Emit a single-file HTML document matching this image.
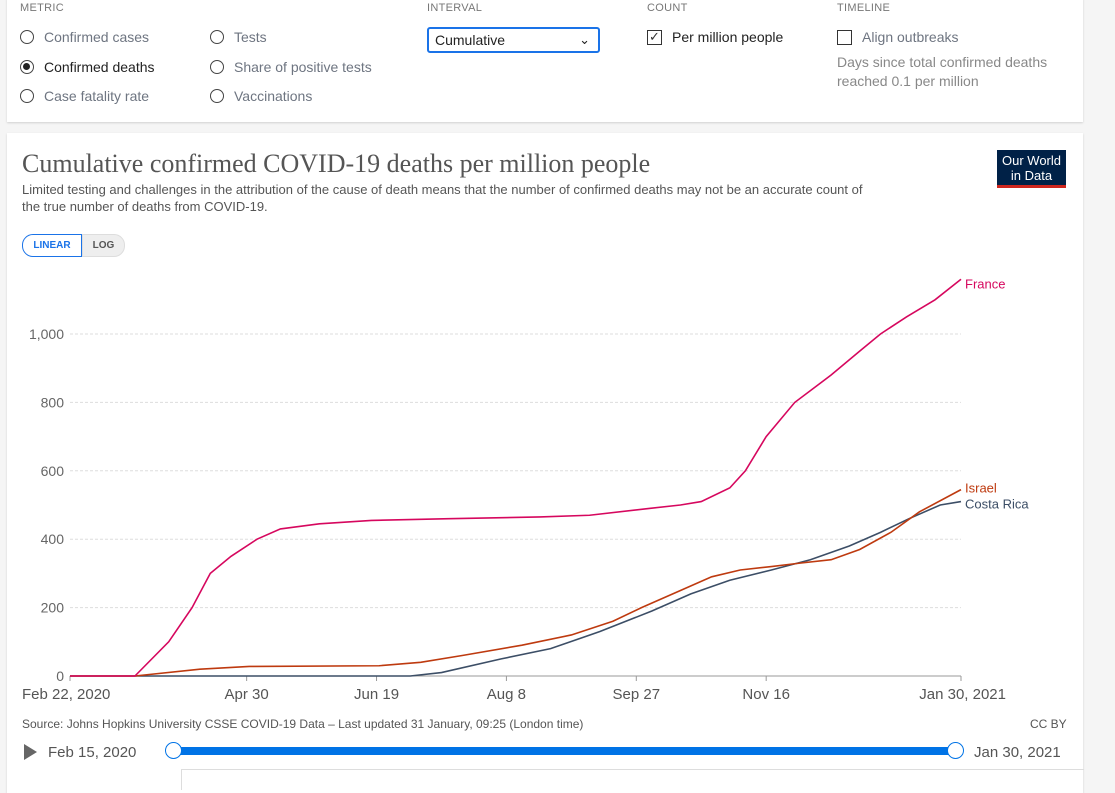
<!DOCTYPE html>
<html><head><meta charset="utf-8"><style>
body{margin:0;width:1115px;height:783px;background:#f5f5f5;font-family:"Liberation Sans",sans-serif;overflow:hidden;position:relative}
.card{position:absolute;background:#fff;box-shadow:0 1px 2px rgba(0,0,0,.15)}
.lbl{position:absolute;font-size:11px;color:#777;letter-spacing:.3px}
.opt{position:absolute;font-size:14px;color:#6e7581;display:flex;align-items:center}
.rad{width:14px;height:14px;border:1.5px solid #444;border-radius:50%;margin-right:10px;box-sizing:border-box;position:relative}
.rad.on::after{content:"";position:absolute;left:2px;top:2px;width:7px;height:7px;border-radius:50%;background:#222}
.chk{width:15px;height:15px;border:1.5px solid #333;margin-right:10px;box-sizing:border-box;font-size:13px;line-height:12px;text-align:center;color:#333}
</style></head><body>
<div class="card" style="left:7px;top:-2px;width:1076px;height:124px">
<div class="lbl" style="left:13px;top:4px">METRIC</div>
<div class="opt" style="left:13px;top:31px"><span class="rad"></span>Confirmed cases</div>
<div class="opt" style="left:13px;top:61px;color:#222"><span class="rad on"></span>Confirmed deaths</div>
<div class="opt" style="left:13px;top:90px"><span class="rad"></span>Case fatality rate</div>
<div class="opt" style="left:203px;top:31px"><span class="rad"></span>Tests</div>
<div class="opt" style="left:203px;top:61px"><span class="rad"></span>Share of positive tests</div>
<div class="opt" style="left:203px;top:90px"><span class="rad"></span>Vaccinations</div>
<div class="lbl" style="left:420px;top:4px">INTERVAL</div>
<div style="position:absolute;left:420px;top:29px;width:163px;height:22px;border:2px solid #1a73e8;border-radius:3px;font-size:14px;color:#222;line-height:22px;padding-left:6px;box-sizing:content-box">Cumulative<span style="position:absolute;right:8px;top:0;font-size:13px">&#8964;</span></div>
<div class="lbl" style="left:640px;top:4px">COUNT</div>
<div class="opt" style="left:640px;top:31px;color:#222"><span class="chk">✓</span>Per million people</div>
<div class="lbl" style="left:830px;top:4px">TIMELINE</div>
<div class="opt" style="left:830px;top:31px"><span class="chk"></span>Align outbreaks</div>
<div style="position:absolute;left:830px;top:55px;font-size:14px;color:#888;line-height:19px">Days since total confirmed deaths<br>reached 0.1 per million</div>
</div>
<div class="card" style="left:7px;top:133px;width:1076px;height:660px"></div>
<div style="position:absolute;left:22px;top:149px;font-family:'Liberation Serif',serif;font-size:26px;color:#555">Cumulative confirmed COVID-19 deaths per million people</div>
<div style="position:absolute;left:22px;top:181px;width:960px;font-size:13px;color:#555;line-height:17px">Limited testing and challenges in the attribution of the cause of death means that the number of confirmed deaths may not be an accurate count of<br>the true number of deaths from COVID-19.</div>
<div style="position:absolute;left:997px;top:150px;width:69px;height:38px;background:#002147;color:#fff;font-size:13px;text-align:center;line-height:15px;padding-top:3px;box-sizing:border-box;border-bottom:3px solid #ce261e">Our World<br>in Data</div>
<div style="position:absolute;left:22px;top:234px;width:58px;height:21px;border:1px solid #1a73e8;border-radius:11px 0 0 11px;font-size:10px;color:#1a73e8;text-align:center;line-height:21px;font-weight:bold">LINEAR</div>
<div style="position:absolute;left:82px;top:234px;width:41px;height:21px;border:1px solid #ddd;background:#eee;border-radius:0 11px 11px 0;font-size:10px;color:#555;text-align:center;line-height:21px;font-weight:bold">LOG</div>
<svg id="chart" width="1115" height="783" style="position:absolute;left:0;top:0"></svg>
<div style="position:absolute;left:22px;top:717px;font-size:12px;color:#555">Source: Johns Hopkins University CSSE COVID-19 Data – Last updated 31 January, 09:25 (London time)</div>
<div style="position:absolute;left:1030px;top:717px;font-size:12px;color:#555">CC BY</div>
<div style="position:absolute;left:24px;top:744px;width:0;height:0;border-left:13px solid #666;border-top:8px solid transparent;border-bottom:8px solid transparent"></div>
<div style="position:absolute;left:48px;top:744px;font-size:15px;color:#555">Feb 15, 2020</div>
<div style="position:absolute;left:174px;top:747px;width:782px;height:8px;background:#0073e6"></div>
<div style="position:absolute;left:165px;top:742px;width:17px;height:17px;border:1px solid #0073e6;border-radius:50%;background:#fff;box-sizing:border-box"></div>
<div style="position:absolute;left:947px;top:742px;width:17px;height:17px;border:1px solid #0073e6;border-radius:50%;background:#fff;box-sizing:border-box"></div>
<div style="position:absolute;left:974px;top:744px;font-size:15px;color:#555">Jan 30, 2021</div>
<div style="position:absolute;left:181px;top:769px;width:902px;height:20px;border-top:1px solid #ddd;border-left:1px solid #ddd"></div>
<script>
const yTicks=[0,200,400,600,800,1000];
const xTickDays=[0,68,118,168,218,268,343];
const xTickLabels=["Feb 22, 2020","Apr 30","Jun 19","Aug 8","Sep 27","Nov 16","Jan 30, 2021"];
const franceDays=[0,25,38,47,54,62,72,81,96,116,146,181,200,223,235,243,254,260,268,279,293,304,312,322,333,343];
const franceVals=[0,0,100,200,300,350,400,430,445,455,460,465,470,490,500,510,550,600,700,800,880,950,1000,1050,1100,1160];
const israelDays=[0,25,50,69,119,135,151,174,193,209,220,235,247,258,270,281,293,304,316,327,343];
const israelVals=[0,0,20,28,30,40,60,90,120,160,200,250,290,310,320,330,340,370,420,480,545];
const costaDays=[0,131,143,166,185,204,224,239,254,270,285,300,312,323,335,343];
const costaVals=[0,0,10,50,80,130,190,240,280,310,340,380,420,460,500,510];
const svg=document.getElementById('chart');const NS='http://www.w3.org/2000/svg';
const X=d=>70+d*891/343, Y=v=>676-v*0.342;
function mk(t,a){const e=document.createElementNS(NS,t);for(const k in a)e.setAttribute(k,a[k]);svg.appendChild(e);return e;}
yTicks.forEach(v=>{
 const l=mk('line',{x1:70,x2:961,y1:Y(v),y2:Y(v),stroke:v?'#ddd':'#999','stroke-dasharray':v?'3,2':''});
 
 const t=mk('text',{x:64,y:Y(v)+5,'text-anchor':'end','font-size':14,fill:'#666','font-family':'Liberation Sans'});t.textContent=v.toLocaleString('en-US');
 
});
xTickDays.forEach((d,i)=>{
 const tk=mk('line',{x1:X(d),x2:X(d),y1:676,y2:681,stroke:'#999'});
 
 const anchor=i==0?'start':(i==xTickDays.length-1?'end':'middle');
 const t=mk('text',{x:i==0?22:(i==xTickDays.length-1?1006:X(d)),y:699,'text-anchor':anchor,'font-size':15,fill:'#555','font-family':'Liberation Sans'});t.textContent=xTickLabels[i];
 
});
function series(days,vals,color,name,label,ly){
 const p=mk('polyline',{points:days.map((d,i)=>X(d)+','+Y(vals[i])).join(' '),fill:'none',stroke:color,'stroke-width':1.6});
 
 const t=mk('text',{x:965,y:ly,'font-size':13,fill:color,'font-family':'Liberation Sans'});t.textContent=label;
 
}
series(costaDays,costaVals,'#3c4e66','costa-rica','Costa Rica',Y(costaVals[costaVals.length-1])+7);
series(israelDays,israelVals,'#be3a0f','israel','Israel',Y(israelVals[israelVals.length-1])+3);
series(franceDays,franceVals,'#d6075e','france','France',Y(franceVals[franceVals.length-1])+9);
</script>
</body></html>
